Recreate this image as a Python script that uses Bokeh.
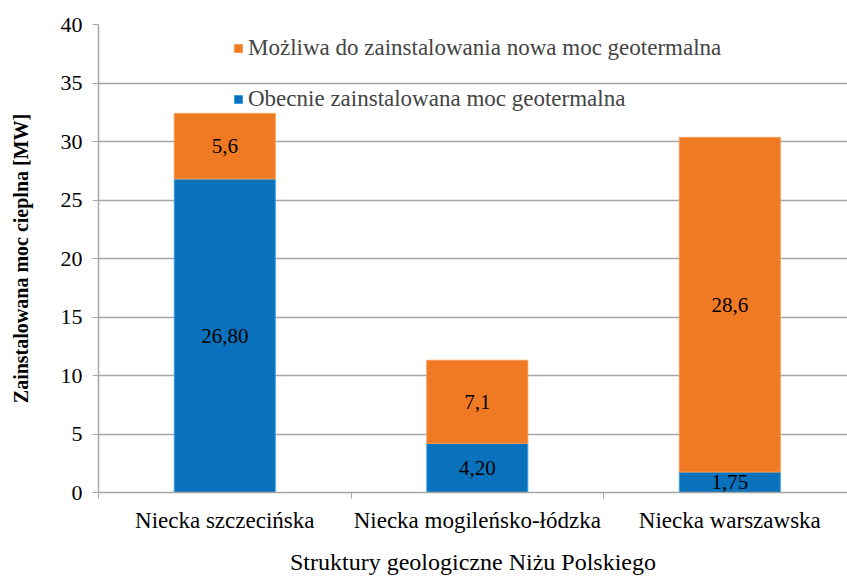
from bokeh.plotting import figure
from bokeh.models import (ColumnDataSource, Range1d, FixedTicker, Legend, LegendItem,
                          LabelSet)
from bokeh.embed import file_html
from bokeh.resources import INLINE

categories = ["Niecka szczecińska", "Niecka mogileńsko-łódzka", "Niecka warszawska"]
current = [26.80, 4.20, 1.75]
new = [5.6, 7.1, 28.6]
current_labels = ["26,80", "4,20", "1,75"]
new_labels = ["5,6", "7,1", "28,6"]
y_ticks = [0, 5, 10, 15, 20, 25, 30, 35, 40]

BLUE = "#0A71BD"
ORANGE = "#F07A23"
FONT = "Liberation Serif"

xs = [i + 0.5 for i in range(len(categories))]
top1 = current
top2 = [a + b for a, b in zip(current, new)]
mid1 = [a / 2 for a in current]
mid2 = [a + b / 2 for a, b in zip(current, new)]

src = ColumnDataSource(dict(x=xs, b0=[0] * 3, t1=top1, t2=top2, m1=mid1, m2=mid2,
                            l1=current_labels, l2=new_labels))

p = figure(width=847, height=577, output_backend="svg", toolbar_location=None,
           x_range=Range1d(0, 2.966), y_range=Range1d(0, 40),
           min_border_left=98, min_border_top=24, min_border_bottom=84, min_border_right=0)
p.outline_line_color = None

r1 = p.vbar(x="x", bottom="b0", top="t1", width=0.4, source=src,
            fill_color=BLUE, line_color="#39A0E0", line_width=1)
r2 = p.vbar(x="x", bottom="t1", top="t2", width=0.4, source=src,
            fill_color=ORANGE, line_color="#F59A50", line_width=1)

for col_y, col_t in (("m1", "l1"), ("m2", "l2")):
    p.add_layout(LabelSet(x="x", y=col_y, text=col_t, source=src, text_align="center",
                          text_baseline="middle", text_font=FONT, text_font_size="21px",
                          text_color="black"))

# axes
p.yaxis.ticker = FixedTicker(ticks=y_ticks)
p.yaxis.axis_line_color = "#A6A6A6"
p.yaxis.axis_line_width = 1.5
p.yaxis.major_tick_line_color = "#A6A6A6"
p.yaxis.major_tick_out = 6
p.yaxis.major_tick_in = 0
p.yaxis.minor_tick_line_color = None
p.yaxis.major_label_text_font = FONT
p.yaxis.major_label_text_font_size = "22px"
p.yaxis.major_label_text_color = "black"
p.yaxis.major_label_standoff = 10
p.yaxis.axis_label = "Zainstalowana moc cieplna [MW]"
p.yaxis.axis_label_text_font = FONT
p.yaxis.axis_label_text_font_size = "20px"
p.yaxis.axis_label_text_font_style = "bold"
p.yaxis.axis_label_text_color = "black"
p.yaxis.axis_label_standoff = 26

p.xaxis.ticker = FixedTicker(ticks=xs, minor_ticks=[0, 1, 2, 3])
p.xaxis.major_label_overrides = {x: c for x, c in zip(xs, categories)}
p.xaxis.axis_line_color = "#A6A6A6"
p.xaxis.axis_line_width = 1.5
p.xaxis.major_tick_line_color = None
p.xaxis.minor_tick_line_color = "#A6A6A6"
p.xaxis.minor_tick_out = 6
p.xaxis.minor_tick_in = 0
p.xaxis.major_label_text_font = FONT
p.xaxis.major_label_text_font_size = "23px"
p.xaxis.major_label_text_color = "black"
p.xaxis.major_label_standoff = 9
p.xaxis.axis_label = "Struktury geologiczne Niżu Polskiego"
p.xaxis.axis_label_text_font = FONT
p.xaxis.axis_label_text_font_size = "24px"
p.xaxis.axis_label_text_font_style = "normal"
p.xaxis.axis_label_text_color = "black"
p.xaxis.axis_label_standoff = 13

p.xgrid.grid_line_color = None
p.ygrid.ticker = FixedTicker(ticks=y_ticks)
p.ygrid.grid_line_color = "#A6A6A6"
p.ygrid.grid_line_width = 1.5

legend = Legend(items=[LegendItem(label="Możliwa do zainstalowania nowa moc geotermalna", renderers=[r2]),
                       LegendItem(label="Obecnie zainstalowana moc geotermalna", renderers=[r1])],
                location=(135, 380), padding=0, margin=0, spacing=25,
                glyph_width=10, glyph_height=10, label_height=26, label_standoff=5,
                label_text_font=FONT, label_text_font_size="23px",
                background_fill_alpha=0, border_line_color=None)
p.add_layout(legend)

open("out.html", "w").write(file_html(p, INLINE))
